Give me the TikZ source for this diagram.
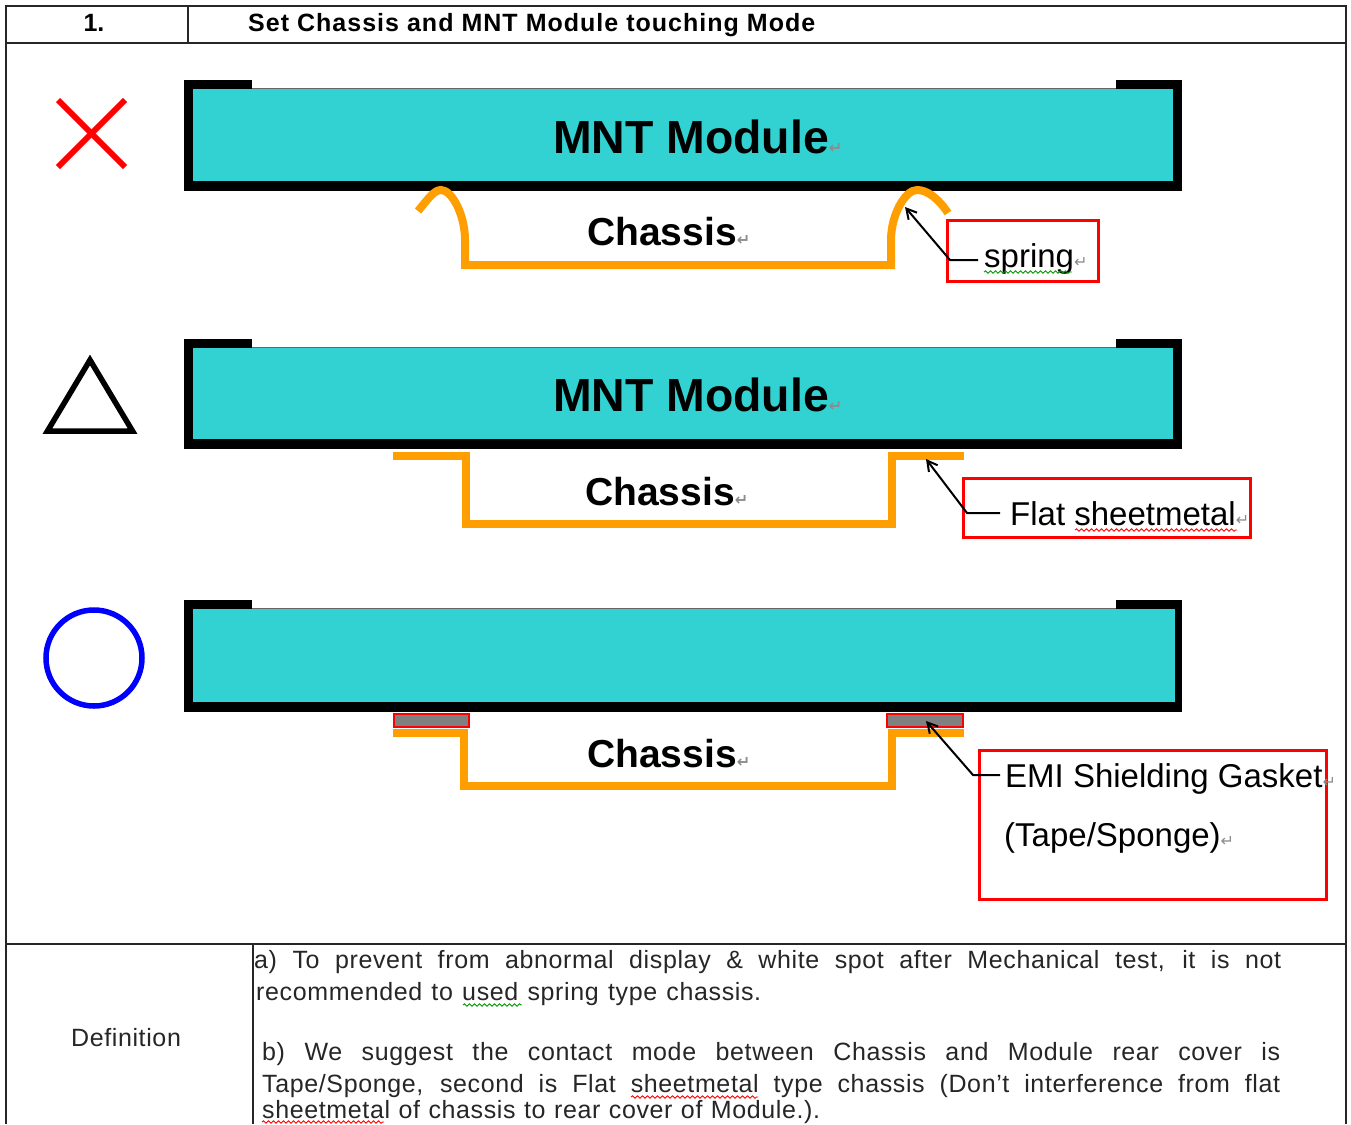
\documentclass[tikz,border=0pt]{standalone}
\usepackage{fontspec}
\setmainfont{Liberation Sans}
\newfontfamily\markfont{DejaVu Sans}
\usetikzlibrary{arrows.meta,decorations.pathmorphing}
\definecolor{teal1}{HTML}{33D2D2}
\definecolor{orng}{HTML}{FF9E00}
\newcommand{\fs}[1]{\fontsize{#1}{#1}\selectfont}
\newcommand{\retmark}{{\color{black!45}\markfont\fontsize{16}{16}\selectfont ↵}}
\newcommand{\modulebody}[3]{% top y, bottom y, x right inner
  \fill[black] (184,#1) rectangle (252,#1+9);
  \fill[black] (1116,#1) rectangle (1182,#1+9);
  \fill[teal1] (193,#1+9) rectangle (#3,#2-9);
  \draw[black!60,line width=1pt] (252,#1+8.5) -- (1116,#1+8.5);
  \fill[black] (184,#1) rectangle (193,#2);
  \fill[black] (#3,#1) rectangle (1182,#2);
  \fill[black] (184,#2-10) rectangle (1182,#2);
}
\tikzset{
  x=1pt,y=-1pt,
  chassisline/.style={draw=orng,line width=8pt,line join=miter},
  redbox/.style={draw=red,line width=3pt,rectangle,inner sep=0pt,outer sep=0pt,anchor=north west},
  leader/.style={draw=black,line width=2pt,-{Straight Barb[length=10pt,width=11pt,line width=2pt]}},
  frameline/.style={draw=black!85,line width=1.6pt},
  modtext/.style={anchor=base,inner sep=0pt,font=\bfseries\fs{46.4}},
  chtext/.style={anchor=base,inner sep=0pt,font=\bfseries\fs{39}},
  lbltext/.style={anchor=base west,inner sep=0pt,font=\fs{33}},
  bodytext/.style={anchor=base west,inner sep=0pt,font=\fs{25}\addfontfeature{LetterSpace=2.5},text=black!85},
  wavy/.style={line width=0.9pt,decorate,decoration={snake,segment length=5pt,amplitude=1.2pt}},
  gasket/.style={draw=red,line width=2pt,fill=black!50},
}
\begin{document}
\begin{tikzpicture}
\useasboundingbox (0,0) rectangle (1351,1124);
\fill[white] (0,0) rectangle (1351,1124);
% table frame
\draw[frameline] (6,1124) -- (6,6) -- (1346,6) -- (1346,1124);
\draw[frameline] (6,43) -- (1346,43);
\draw[frameline] (188,6) -- (188,43);
\draw[frameline] (6,944) -- (1346,944);
\draw[frameline] (253,944) -- (253,1124);
\node[anchor=base,inner sep=0pt,font=\bfseries\fs{25}] (num) at (94,32) {1.};
\node[anchor=base west,inner sep=0pt,font=\bfseries\fs{25}\addfontfeature{LetterSpace=4}] (title) at (248,32) {\makebox[567pt][s]{Set Chassis and MNT Module touching Mode}};
% symbols
\draw[red,line width=6pt] (58,100) -- (125,167);
\draw[red,line width=6pt] (125,100) -- (58,167);
\draw[black,line width=5.5pt,line join=miter] (90,360) -- (132.5,431) -- (47.5,431) -- cycle;
\draw[blue,line width=5.5pt] (94,658) circle (48);
% modules
\modulebody{80}{191}{1173}
\modulebody{339}{449}{1173}
\modulebody{600}{712}{1175}
\node[modtext,anchor=base west] (mod1) at (553,153) {MNT Module\retmark};
\node[modtext,anchor=base west] (mod2) at (553,411) {MNT Module\retmark};
% chassis 1
\draw[chassisline] (418,211) .. controls (428,199) and (434,190) .. (441,190) .. controls (452,190) and (465,215) .. (465,240) -- (465,265) -- (891,265) -- (891,240) .. controls (891,215) and (905,190) .. (917,190) .. controls (927,190) and (938,198) .. (948,213);
\node[chtext,anchor=base west] (ch1) at (587,245) {Chassis\retmark};
% chassis 2
\draw[chassisline] (393,456) -- (466,456) -- (466,524) -- (892,524) -- (892,456) -- (964,456);
\node[chtext,anchor=base west] (ch2) at (585,505) {Chassis\retmark};
% chassis 3
\draw[chassisline] (393,733) -- (464,733) -- (464,786) -- (892,786) -- (892,733) -- (964,733);
\node[chtext,anchor=base west] (ch3) at (587,767) {Chassis\retmark};
\draw[gasket] (393.5,713.5) rectangle (469,726.5);
\draw[gasket] (887,713.5) rectangle (963,726.5);
% callouts
\node[redbox,minimum width=151pt,minimum height=61pt] (box1) at (947,220) {};
\node[redbox,minimum width=287pt,minimum height=59pt] (box2) at (963,478) {};
\node[redbox,minimum width=347pt,minimum height=149pt] (box3) at (979,750.5) {};
\node[lbltext] (spring) at (984,267) {spring\retmark};
\node[lbltext] (flat) at (1010,525) {Flat sheetmetal\retmark};
\node[lbltext] (emi) at (1005,787) {EMI Shielding Gasket\retmark};
\node[lbltext] (tape) at (1004,846) {(Tape/Sponge)\retmark};
\coordinate (t1) at (905,207); \coordinate (k1) at (950,260); \coordinate (s1) at (978,260);
\coordinate (t2) at (926,459); \coordinate (k2) at (967,513); \coordinate (s2) at (1000,513);
\coordinate (t3) at (926,721); \coordinate (k3) at (973,775); \coordinate (s3) at (1000,775);
\draw[leader] (s1) -- (k1) -- (t1);
\draw[leader] (s2) -- (k2) -- (t2);
\draw[leader] (s3) -- (k3) -- (t3);
\draw[wavy,green!60!black] (984,272) -- (1072,272);
\draw[wavy,red] (1075,530) -- (1237,530);
% definition row
\node[anchor=base,inner sep=0pt,font=\fs{25}\addfontfeature{LetterSpace=2.5},text=black!85] (def) at (126,1046) {Definition};
\node[bodytext] (l1) at (254,968) {\makebox[1027pt][s]{a) To prevent from abnormal display \& white spot after Mechanical test, it is not}};
\node[bodytext] (l2) at (256,1000) {\makebox[505pt][s]{recommended to used spring type chassis.}};
\node[bodytext] (l3) at (262,1060) {\makebox[1018pt][s]{b) We suggest the contact mode between Chassis and Module rear cover is}};
\node[bodytext] (l4) at (262,1092) {\makebox[1018pt][s]{Tape/Sponge, second is Flat sheetmetal type chassis (Don't interference from flat}};
\node[bodytext] (l5) at (262,1118.5) {\makebox[558pt][s]{sheetmetal of chassis to rear cover of Module.).}};
\draw[wavy,green!60!black] (463,1005) -- (522,1005);
\draw[wavy,red] (631,1097) -- (758,1097);
\draw[wavy,red] (262,1122) -- (384,1122);
\end{tikzpicture}
\end{document}
